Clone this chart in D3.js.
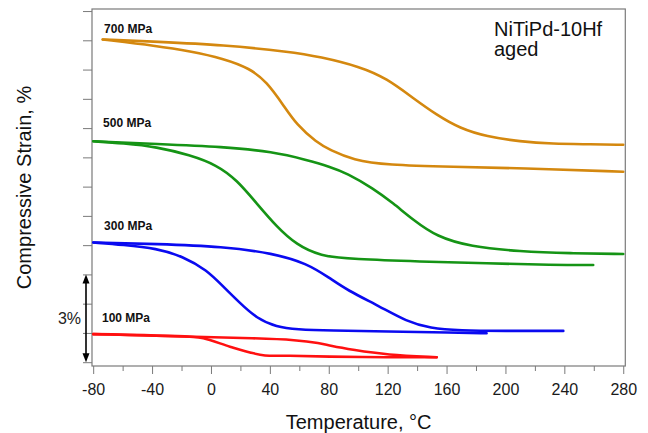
<!DOCTYPE html>
<html>
<head>
<meta charset="utf-8">
<script src="https://cdn.jsdelivr.net/npm/d3@7/dist/d3.min.js"></script>
<style>
    body { margin: 0; background: #fff; }
    svg { display: block; font-family: Arial, "Liberation Sans", sans-serif; }
</style>
</head>
<body>
<svg width="648" height="433"></svg>
<script>
// [temperature degC, strain %]
var heat700 = [[-73.5, 11.03], [-36.9, 10.95], [8.4, 10.84], [53.6, 10.61], [74.0, 10.44], [101.2, 10.10],
    [119.3, 9.70], [137.4, 9.02], [153.3, 8.45], [169.1, 7.99], [187.2, 7.71], [209.8, 7.54],
    [232.5, 7.46], [255.1, 7.45], [280, 7.43]];
var cool700 = [[-73.5, 11.03], [-36.9, 10.81], [-14.3, 10.63], [8.4, 10.38], [26.5, 10.04], [37.8, 9.58],
    [49.1, 8.79], [58.2, 8.11], [71.8, 7.51], [80.8, 7.25], [96.6, 6.91], [119.3, 6.74],
    [164.5, 6.68], [209.8, 6.63], [280, 6.51]];

var heat500 = [[-79.9, 7.55], [-36.9, 7.46], [8.4, 7.36], [42.3, 7.19], [65.0, 6.91], [80.8, 6.68],
    [92.2, 6.46], [110.2, 5.94], [123.8, 5.43], [137.4, 4.86], [153.3, 4.29], [175.9, 3.95],
    [209.8, 3.78], [243.8, 3.72], [280, 3.70]];
var cool500 = [[-79.9, 7.55], [-59.6, 7.48], [-36.9, 7.36], [-14.3, 7.08], [3.9, 6.74], [17.5, 6.23],
    [31.0, 5.43], [44.6, 4.63], [58.2, 4.01], [74.0, 3.63], [96.6, 3.52], [141.9, 3.44],
    [187.2, 3.38], [232.5, 3.32], [259.6, 3.32]];

var heat300 = [[-79.9, 4.09], [-36.9, 4.04], [8.4, 3.95], [42.3, 3.72], [65.0, 3.38], [80.8, 2.87],
    [92.2, 2.47], [114.8, 1.90], [132.9, 1.39], [148.7, 1.16], [169.1, 1.08], [198.5, 1.07],
    [239.3, 1.07]];
var cool300 = [[-79.9, 4.09], [-59.6, 4.01], [-36.9, 3.89], [-18.8, 3.61], [-2.9, 3.15], [8.4, 2.58],
    [19.7, 2.02], [31.0, 1.50], [44.6, 1.20], [58.2, 1.12], [80.8, 1.08], [119.3, 1.05],
    [164.5, 1.01], [187.2, 0.99]];

var heat100 = [[-79.9, 0.96], [-14.3, 0.87], [31.0, 0.82], [58.2, 0.76], [74.0, 0.65], [80.8, 0.56],
    [96.6, 0.42], [119.3, 0.25], [153.3, 0.17]];
var cool100 = [[-79.9, 0.96], [-14.3, 0.87], [-5.2, 0.82], [12.9, 0.53], [26.5, 0.33], [36.7, 0.23],
    [53.6, 0.22], [80.8, 0.19], [119.3, 0.17], [153.3, 0.17]];

var loads = ["700 MPa", "500 MPa", "300 MPa", "100 MPa"];
var loadColors = ["#d4880f", "#159415", "#0a0af0", "#ff1010"];
var loadCurves = [[heat700, cool700], [heat500, cool500], [heat300, cool300], [heat100, cool100]];
// where the load labels sit, [temperature, strain]
var loadLabelAt = [[-72.6, 11.25], [-73.3, 8.04], [-72.6, 4.52], [-74.0, 1.38]];

var xTicks = [-80, -40, 0, 40, 80, 120, 160, 200, 240, 280];
var xMinorTicks = [-60, -20, 20, 60, 100, 140, 180, 220, 260];
var yTicks = [0, 1, 2, 3, 4, 5, 6, 7, 8, 9, 10, 11, 12];
var scaleBar = [0, 3];

var svg = d3.select("svg"),
    margin = {top: 9, right: 22.7, bottom: 67, left: 92},
    width = +svg.attr("width") - margin.left - margin.right,
    height = +svg.attr("height") - margin.top - margin.bottom,
    g = svg.append("g").attr("transform", "translate(" + margin.left + "," + margin.top + ")");

var x = d3.scaleLinear().domain([-80.8, 281.4]).range([0, width]);
var y = d3.scaleLinear().domain([-0.13, 12.07]).range([height, 0]);

var axisGrey = "#7a7a7a";

// minor ticks first, then major with labels
g.append("g")
    .attr("class", "minor")
    .attr("transform", "translate(0," + height + ")")
    .call(d3.axisBottom(x).tickValues(xMinorTicks).tickSize(5).tickFormat(""));

g.append("g")
    .attr("class", "major")
    .attr("transform", "translate(0," + height + ")")
    .call(d3.axisBottom(x).tickValues(xTicks).tickSize(8).tickPadding(10)
        .tickFormat(function (d) { return String(d); }));

g.append("g")
    .attr("class", "yax")
    .call(d3.axisLeft(y).tickValues(yTicks).tickSize(9).tickFormat(""));

g.selectAll(".domain").remove();
g.selectAll(".tick line").attr("stroke", axisGrey).attr("stroke-width", 1);
g.selectAll(".major text")
    .attr("fill", "#1a1a1a")
    .style("font-size", "16px")
    .style("font-family", "Arial, 'Liberation Sans', sans-serif");

// frame
g.append("rect")
    .attr("x", 0)
    .attr("y", 0)
    .attr("width", width)
    .attr("height", height)
    .attr("fill", "none")
    .attr("stroke", axisGrey)
    .attr("stroke-width", 1.2);

var smooth = d3.line()
    .x(function (d) { return x(d[0]); })
    .y(function (d) { return y(d[1]); })
    .curve(d3.curveBasis);

// the 100 MPa cooling branch has a sharp corner, keep it
var throughPoints = d3.line()
    .x(function (d) { return x(d[0]); })
    .y(function (d) { return y(d[1]); })
    .curve(d3.curveCatmullRom.alpha(0.5));

loadCurves.forEach(function (pair, i) {
    pair.forEach(function (branch) {
        g.append("path")
            .datum(branch)
            .attr("fill", "none")
            .attr("stroke", loadColors[i])
            .attr("stroke-width", 2.6)
            .attr("stroke-linecap", "round")
            .attr("stroke-linejoin", "round")
            .attr("d", branch === cool100 ? throughPoints : smooth);
    });
    g.append("text")
        .attr("x", x(loadLabelAt[i][0]))
        .attr("y", y(loadLabelAt[i][1]))
        .attr("fill", "#111")
        .style("font-size", "12px")
        .style("font-weight", "bold")
        .text(loads[i]);
});

// 3% scale bar
var barX = -6,
    y0 = y(scaleBar[0]),
    y1 = y(scaleBar[1]);
g.append("line")
    .attr("x1", barX).attr("x2", barX)
    .attr("y1", y1 + 4).attr("y2", y0 - 4)
    .attr("stroke", "#000")
    .attr("stroke-width", 1.6);
g.append("path")
    .attr("d", "M" + barX + "," + y1 + "L" + (barX - 3.5) + "," + (y1 + 9) + "L" + (barX + 3.5) + "," + (y1 + 9) + "Z")
    .attr("fill", "#000");
g.append("path")
    .attr("d", "M" + barX + "," + y0 + "L" + (barX - 3.5) + "," + (y0 - 9) + "L" + (barX + 3.5) + "," + (y0 - 9) + "Z")
    .attr("fill", "#000");
g.append("text")
    .attr("x", barX - 5)
    .attr("y", (y0 + y1) / 2 + 6)
    .attr("text-anchor", "end")
    .attr("fill", "#222")
    .style("font-size", "16px")
    .text((scaleBar[1] - scaleBar[0]) + "%");

// sample name
var note = g.append("text")
    .attr("x", 402)
    .attr("y", 27)
    .attr("fill", "#111")
    .style("font-size", "20px");
note.append("tspan").attr("x", 402).text("NiTiPd-10Hf");
note.append("tspan").attr("x", 402).attr("dy", 20).text("aged");

// axis titles
svg.append("text")
    .attr("x", margin.left + width / 2)
    .attr("y", 429)
    .attr("text-anchor", "middle")
    .attr("fill", "#111")
    .style("font-size", "20px")
    .text("Temperature, \u00B0C");

svg.append("text")
    .attr("transform", "translate(31," + (margin.top + height / 2) + ") rotate(-90)")
    .attr("text-anchor", "middle")
    .attr("fill", "#111")
    .style("font-size", "20px")
    .text("Compressive Strain, %");
</script>
</body>
</html>
